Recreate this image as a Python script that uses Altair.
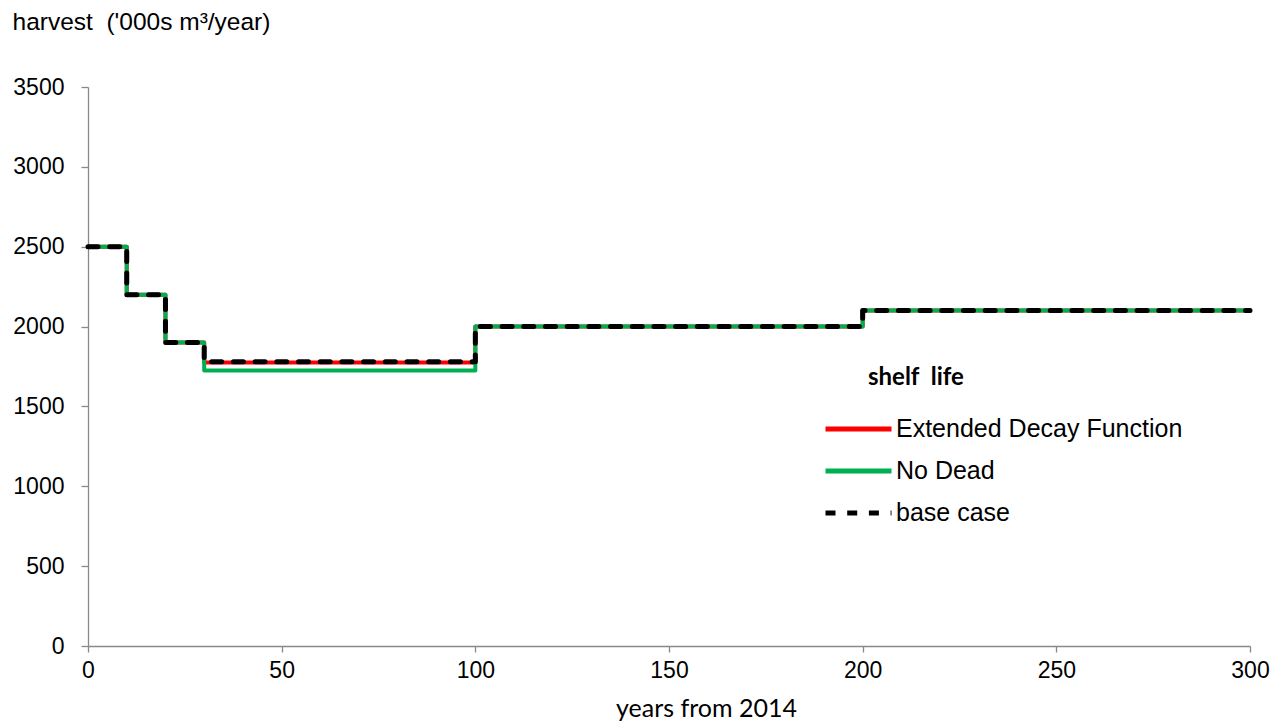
import altair as alt
import pandas as pd

# Harvest schedule (step changes at each listed year, held until the next one)
years = [0, 10, 20, 30, 100, 200, 300]
extended_decay = [2500, 2200, 1900, 1775, 2000, 2100, 2100]
no_dead = [2500, 2200, 1900, 1725, 2000, 2100, 2100]
base_case = [2500, 2200, 1900, 1780, 2000, 2100, 2100]

series_names = ["Extended Decay Function", "No Dead", "base case"]
series_colors = ["#FF0000", "#00B050", "#000000"]
series_dashes = [[1, 0], [1, 0], [10, 11.7]]
x_ticks = [0, 50, 100, 150, 200, 250, 300]
y_ticks = [0, 500, 1000, 1500, 2000, 2500, 3000, 3500]

frames = []
for name, vals in zip(series_names, [extended_decay, no_dead, base_case]):
    frames.append(pd.DataFrame({"year": years, "harvest": vals, "series": name}))

AXIS_GREY = "#898989"
LABEL_FONT = "Liberation Sans"
TITLE_FONT = "Lato"

x_enc = alt.X(
    "year:Q",
    scale=alt.Scale(domain=[0, 300], nice=False),
    axis=alt.Axis(
        values=x_ticks, grid=False, title="years from 2014", format="d",
        tickSize=6, labelPadding=7, labelFlush=False, labelOverlap=False,
        domainColor=AXIS_GREY, tickColor=AXIS_GREY, domainWidth=1.3, tickWidth=1.3,
        labelFont=LABEL_FONT, labelFontSize=23, labelColor="black",
        titleFont=TITLE_FONT, titleFontSize=25, titleFontWeight="normal",
        titleColor="black", titleX=618, titleY=62, titleAlign="center",
        titleBaseline="middle",
    ),
)
y_enc = alt.Y(
    "harvest:Q",
    scale=alt.Scale(domain=[0, 3500], nice=False),
    axis=alt.Axis(
        values=y_ticks, grid=False, title="harvest\u00a0 ('000s m³/year)",
        format="d", tickSize=7, labelPadding=17, labelOverlap=False,
        domainColor=AXIS_GREY, tickColor=AXIS_GREY, domainWidth=1.3, tickWidth=1.3,
        labelFont=LABEL_FONT, labelFontSize=23, labelColor="black",
        titleFont=LABEL_FONT, titleFontSize=24.5, titleFontWeight="normal",
        titleColor="black", titleAngle=0, titleAlign="left",
        titleBaseline="middle", titleX=-76, titleY=-65,
    ),
)

# Long horizontal line swatch for the legend entries
legend = alt.Legend(
    title=None, orient="none", legendX=735, legendY=323,
    symbolType="M-1,0H3", symbolSize=1089, symbolStrokeWidth=5,
    labelFont=LABEL_FONT, labelFontSize=25, labelColor="black",
    labelOffset=35, labelLimit=0, rowPadding=10, padding=0,
)
color_enc = alt.Color(
    "series:N",
    scale=alt.Scale(domain=series_names, range=series_colors),
    legend=legend,
)
dash_enc = alt.StrokeDash(
    "series:N",
    scale=alt.Scale(domain=series_names, range=series_dashes),
    legend=legend,
)

layers = []
for df, width in zip(frames, [4, 4, 5]):
    layers.append(
        alt.Chart(df)
        .mark_line(interpolate="step-after", strokeWidth=width,
                   strokeCap="round", strokeJoin="round")
        .encode(x=x_enc, y=y_enc, color=color_enc, strokeDash=dash_enc)
    )

legend_title = (
    alt.Chart(pd.DataFrame({"t": ["shelf\u00a0 life"]}))
    .mark_text(font=TITLE_FONT, fontWeight="bold", fontSize=24,
               align="left", baseline="middle", color="black")
    .encode(x=alt.value(780), y=alt.value(291), text="t:N")
)

chart = (
    alt.layer(*layers, legend_title)
    .properties(
        width=1162, height=559,
        autosize=alt.AutoSizeParams(type="none"),
        padding={"left": 88, "top": 87, "right": 31, "bottom": 79},
        background="white",
    )
    .configure_view(stroke=None)
)

chart.save("out.html", embed_options={"renderer": "svg", "actions": False})
